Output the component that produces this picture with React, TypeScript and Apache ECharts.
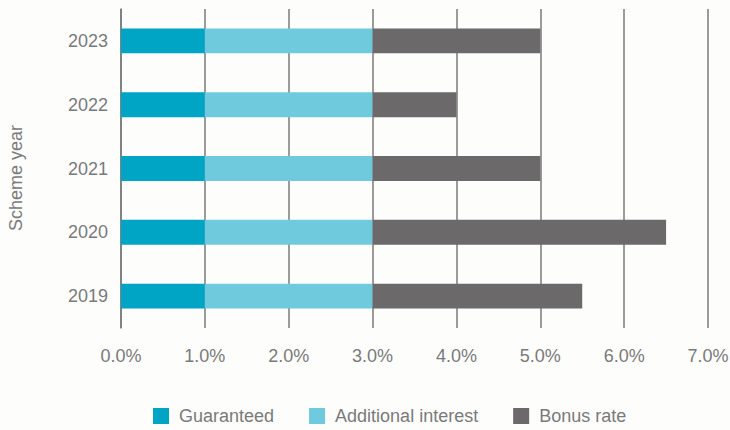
import React, { useEffect, useRef } from "react";
import * as echarts from "echarts";

const years = ["2019", "2020", "2021", "2022", "2023"];
const guaranteed = [1, 1, 1, 1, 1];
const additionalInterest = [2, 2, 2, 2, 2];
const bonusRate = [2.5, 3.5, 2, 1, 2];
const seriesNames = ["Guaranteed", "Additional interest", "Bonus rate"];
const colors = ["#00a4c4", "#6fcadd", "#6b696a"];
const axisTitle = "Scheme year";

export default function App() {
  const ref = useRef<HTMLDivElement>(null);
  useEffect(() => {
    if (!ref.current) return;
    const chart = echarts.init(ref.current, null, { renderer: "svg" });
    const font = "Liberation Sans, Arial, sans-serif";
    const textColor = "#7a7a7a";
    chart.setOption({
      animation: false,
      backgroundColor: "#fdfdfc",
      textStyle: { fontFamily: font },
      grid: { left: 121, right: 22, top: 9, height: 319, containLabel: false, outerBoundsMode: "none" },
      legend: {
        top: 407,
        left: 153,
        padding: 0,
        itemWidth: 16,
        itemHeight: 16,
        itemGap: 35,
        icon: "rect",
        textStyle: { color: textColor, fontSize: 18, fontFamily: font, padding: [0, 0, 0, 5] },
        data: seriesNames,
      },
      graphic: [
        {
          type: "text",
          x: 16,
          y: 178,
          rotation: Math.PI / 2,
          style: {
            text: axisTitle,
            fill: textColor,
            fontSize: 18,
            fontFamily: font,
            align: "center",
            verticalAlign: "middle",
          },
        },
      ],
      xAxis: {
        type: "value",
        min: 0,
        max: 7,
        interval: 1,
        axisLine: { show: false },
        axisTick: { show: false },
        splitLine: { show: true, lineStyle: { color: "#7a7a7a", width: 1.5 } },
        axisLabel: {
          color: textColor,
          fontSize: 18,
          margin: 19,
          formatter: (v: number) => v.toFixed(1) + "%",
        },
      },
      yAxis: {
        type: "category",
        data: years,
        axisLine: { show: true, lineStyle: { color: "#7a7a7a", width: 1.5 } },
        axisTick: { show: false },
        axisLabel: { color: textColor, fontSize: 18, margin: 13 },
      },
      series: [
        { name: seriesNames[0], type: "bar", stack: "t", data: guaranteed, barWidth: "39%", itemStyle: { color: colors[0] } },
        { name: seriesNames[1], type: "bar", stack: "t", data: additionalInterest, barWidth: "39%", itemStyle: { color: colors[1] } },
        { name: seriesNames[2], type: "bar", stack: "t", data: bonusRate, barWidth: "39%", itemStyle: { color: colors[2] } },
      ],
    });
    return () => chart.dispose();
  }, []);
  return <div ref={ref} style={{ width: 730, height: 430, position: "absolute", left: 0, top: 0 }} />;
}
